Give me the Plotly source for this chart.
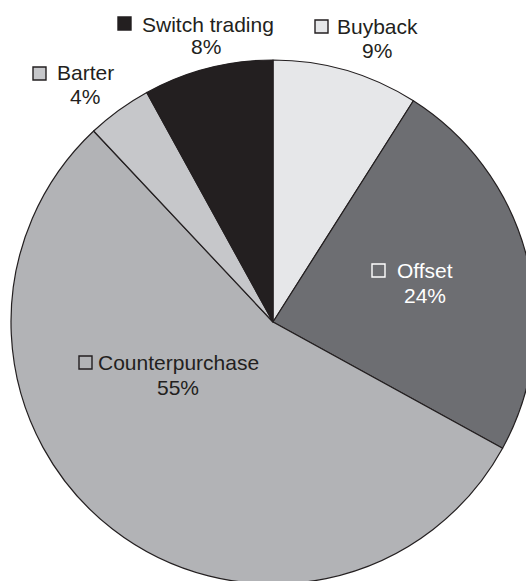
import plotly.graph_objects as go

# Shares of countertrade forms (%), listed clockwise from 12 o'clock
categories = ["Buyback", "Offset", "Counterpurchase", "Barter", "Switch trading"]
shares = [9, 24, 55, 4, 8]
slice_colors = ["#e6e7e9", "#6d6e72", "#b2b3b6", "#c6c7ca", "#231f20"]
label_colors = ["#231f20", "#ffffff", "#231f20", "#231f20", "#231f20"]

W, H = 545, 600          # page is viewed through a 526x581 window
FONT = "Liberation Sans, Arial, Helvetica, sans-serif"
FS = 21

# label placement in pixels: (name left x, name centre y, pct centre x, pct centre y, square x0, square y0)
label_pos = {
    "Switch trading": (140, 24, 206, 46, 118, 17),
    "Buyback": (335, 26, 377, 51, 315, 20),
    "Barter": (55, 72, 85, 96, 33, 67),
    "Offset": (395, 270, 425, 295, 372, 264),
    "Counterpurchase": (96, 362, 178, 387, 79, 356),
}
SQ = 13


def px(x):
    return x / W


def py(y):
    return 1 - y / H


fig = go.Figure(
    go.Pie(
        labels=categories,
        values=shares,
        sort=False,
        direction="clockwise",
        rotation=0,
        textinfo="none",
        hoverinfo="label+percent",
        marker=dict(colors=slice_colors, line=dict(color="#231f20", width=1.2)),
        domain=dict(x=[px(11), px(535)], y=[py(584), py(60)]),
        showlegend=False,
    )
)

annotations = []
shapes = []
total = sum(shares)
for name, val, fill, tcol in zip(categories, shares, slice_colors, label_colors):
    nx, ny, vx, vy, sx, sy = label_pos[name]
    pct = round(100 * val / total)
    annotations.append(dict(
        x=px(nx), y=py(ny), xref="paper", yref="paper", xanchor="left", yanchor="middle",
        text=name, showarrow=False, font=dict(family=FONT, size=FS, color=tcol),
    ))
    annotations.append(dict(
        x=px(vx), y=py(vy), xref="paper", yref="paper", xanchor="center", yanchor="middle",
        text=f"{pct}%", showarrow=False, font=dict(family=FONT, size=FS, color=tcol),
    ))
    shapes.append(dict(
        type="rect", xref="paper", yref="paper",
        x0=px(sx), x1=px(sx + SQ), y0=py(sy + SQ), y1=py(sy),
        fillcolor=fill, line=dict(color=tcol, width=1.4),
    ))

fig.update_layout(
    width=W, height=H,
    margin=dict(l=0, r=0, t=0, b=0),
    paper_bgcolor="white", plot_bgcolor="white",
    annotations=annotations, shapes=shapes,
)

fig.write_html(
    "out.html",
    post_script="document.documentElement.style.overflow='hidden';document.body.style.overflow='hidden';",
)
